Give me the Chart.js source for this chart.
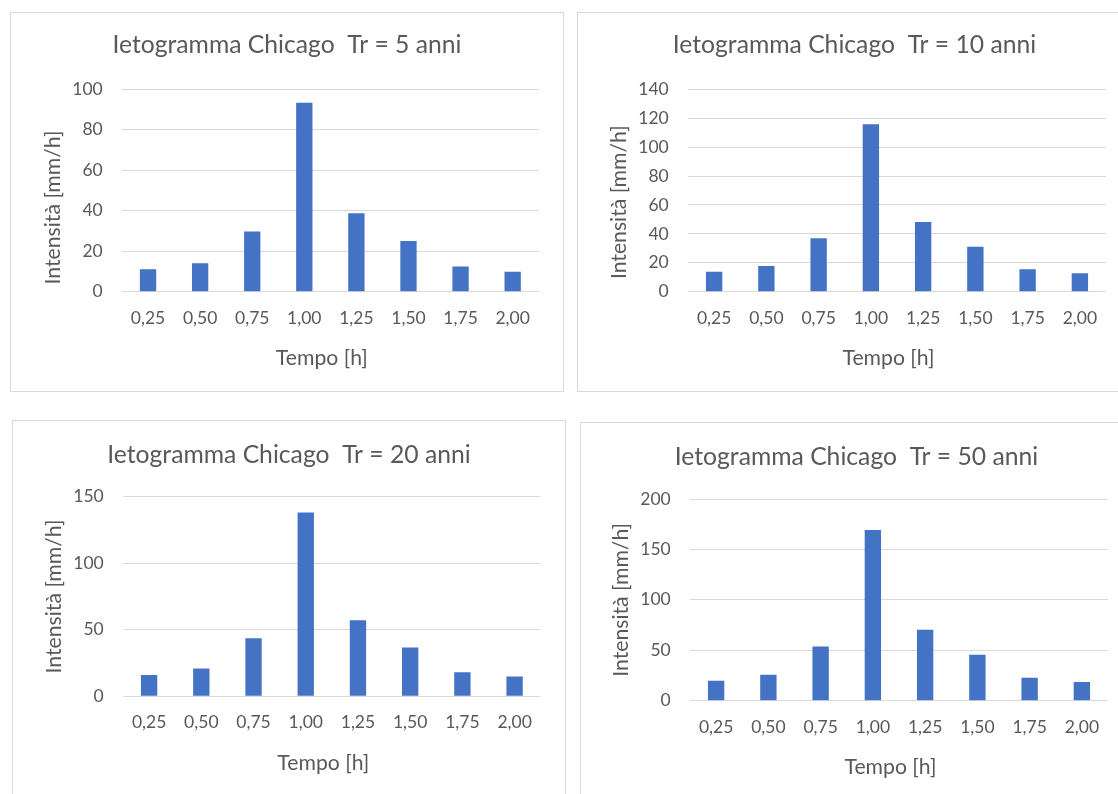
<!DOCTYPE html>
<html>
<head>
<meta charset="utf-8">
<title>Ietogrammi Chicago</title>
<script src="https://cdn.jsdelivr.net/npm/chart.js@4/dist/chart.umd.min.js"></script>
<style>
  html, body { margin: 0; padding: 0; width: 1118px; height: 794px; overflow: hidden; background: #ffffff; }
  .frame { position: absolute; border: 1px solid #d9d9d9; box-sizing: border-box; }
  canvas { position: absolute; }
</style>
</head>
<body>
<script>
// Tempo [h] (categorie) e intensità [mm/h] per ciascun tempo di ritorno
const tempi = ['0,25', '0,50', '0,75', '1,00', '1,25', '1,50', '1,75', '2,00'];
const intensitaTr5  = [11.1, 14.1, 29.7, 93.4, 38.7, 25.1, 12.4, 9.9];
const intensitaTr10 = [13.8, 17.8, 36.9, 115.8, 48.2, 31.1, 15.5, 12.7];
const intensitaTr20 = [16.1, 20.8, 43.6, 138.2, 57.2, 36.6, 18.1, 14.8];
const intensitaTr50 = [19.8, 25.7, 53.8, 169.3, 70.3, 45.5, 22.8, 18.5];
const tempiRitorno = [5, 10, 20, 50];
const assiMax  = [100, 140, 150, 200];
const assiPasso = [20, 20, 50, 50];
const serie = [intensitaTr5, intensitaTr10, intensitaTr20, intensitaTr50];

// Posizione dei riquadri e delle aree di disegno nella pagina
const pannelli = [
  { box: [10, 12, 554, 380],  plot: [122, 89.3, 538.7, 291.7],  titleY: 45.5, yDy: 17 },
  { box: [577, 12, 555, 380], plot: [688, 89.3, 1106, 291.7],   titleY: 45.5, yDy: 11.7 },
  { box: [12, 420, 554, 390], plot: [123, 496.7, 540.7, 696.3], titleY: 455.2, yDy: 0 },
  { box: [580, 422, 553, 390], plot: [690, 499, 1108, 700.7],   titleY: 456.7, yDy: 0 }
];

const FONT = 'Lato, "Open Sans", sans-serif';
const GRIGIO = '#595959';
const BLU = '#4472C4';
const TITLE_SIZE = 24.7;
const TICK_SIZE = 17.5;
const AXIS_SIZE = 21.2;

// Titoli degli assi disegnati rispetto all'area del grafico
const axisTitles = {
  id: 'axisTitles',
  afterDraw(chart, args, opts) {
    const { ctx, chartArea: a } = chart;
    ctx.save();
    ctx.fillStyle = opts.color;
    ctx.font = opts.size + 'px ' + FONT;
    ctx.textAlign = 'center';
    ctx.textBaseline = 'middle';
    ctx.fillText(opts.xText, (a.left + a.right) / 2 + opts.xDx, a.bottom + opts.xDy);
    ctx.translate(a.left + opts.yDx, (a.top + a.bottom) / 2 + opts.yDy);
    ctx.rotate(-Math.PI / 2);
    ctx.fillText(opts.yText, 0, 0);
    ctx.restore();
  }
};

pannelli.forEach((p, i) => {
  const [bx, by, bw, bh] = p.box;
  const frame = document.createElement('div');
  frame.className = 'frame';
  Object.assign(frame.style, { left: bx + 'px', top: by + 'px', width: bw + 'px', height: bh + 'px' });
  document.body.appendChild(frame);

  const canvas = document.createElement('canvas');
  canvas.width = bw; canvas.height = bh;
  Object.assign(canvas.style, { left: bx + 'px', top: by + 'px', width: bw + 'px', height: bh + 'px' });
  document.body.appendChild(canvas);

  const left = p.plot[0] - bx, top = p.plot[1] - by, right = p.plot[2] - bx, bottom = p.plot[3] - by;
  // margine simmetrico: il titolo resta centrato nel riquadro
  const side = bw - right;
  const lh = TITLE_SIZE * 1.2;
  const tPadTop = (p.titleY - by) - lh / 2;
  const tPadBottom = top - lh - tPadTop;

  new Chart(canvas, {
    type: 'bar',
    data: {
      labels: tempi,
      datasets: [{
        data: serie[i],
        backgroundColor: BLU,
        borderWidth: 0,
        barPercentage: 0.313,
        categoryPercentage: 1
      }]
    },
    plugins: [axisTitles],
    options: {
      responsive: false,
      animation: false,
      devicePixelRatio: 1,
      layout: { padding: { left: side, top: 0, right: side, bottom: 0 } },
      plugins: {
        legend: { display: false },
        tooltip: { enabled: false },
        title: {
          display: true,
          text: 'Ietogramma Chicago  Tr = ' + tempiRitorno[i] + ' anni',
          color: GRIGIO,
          font: { family: FONT, size: TITLE_SIZE, weight: 'normal', lineHeight: 1.2 },
          padding: { top: tPadTop, bottom: tPadBottom }
        },
        axisTitles: {
          color: GRIGIO, size: AXIS_SIZE,
          xText: 'Tempo [h]', xDx: -8.5, xDy: 66.7,
          yText: 'Intensità [mm/h]', yDx: -69, yDy: p.yDy
        }
      },
      scales: {
        x: {
          grid: { display: false, drawTicks: false },
          border: { display: false },
          ticks: { color: GRIGIO, font: { family: FONT, size: TICK_SIZE }, padding: 15.8, maxRotation: 0, autoSkip: false },
          afterFit(s) { s.height = bh - bottom; }
        },
        y: {
          min: 0, max: assiMax[i],
          grid: { color: '#d9d9d9', lineWidth: 1, drawTicks: false },
          border: { display: false },
          ticks: { stepSize: assiPasso[i], color: GRIGIO, font: { family: FONT, size: TICK_SIZE }, padding: 19.3 },
          afterFit(s) { s.width = left - side; }
        }
      }
    }
  });
});
</script>
</body>
</html>
